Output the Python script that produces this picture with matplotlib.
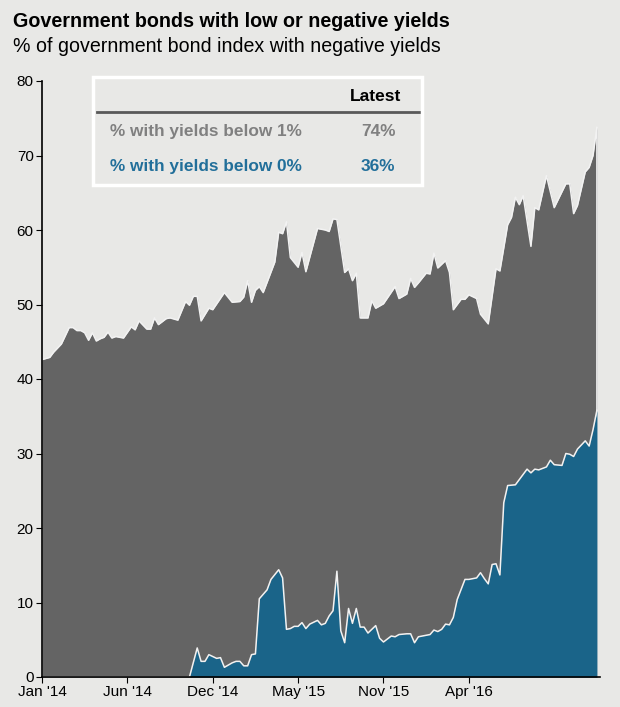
import matplotlib
matplotlib.use("Agg")
import matplotlib.pyplot as plt
from matplotlib.patches import Rectangle
from matplotlib.lines import Line2D

plt.rcParams['font.family'] = ['Liberation Sans', 'DejaVu Sans']

# weekly index (week 0 = early Jan 2014), % of index
below1_weeks = [0, 2, 3, 5, 7, 8, 9, 10, 11, 12, 13, 14, 15, 16, 17, 18, 19, 21,
                23, 24, 25, 27, 28, 29, 30, 32, 33, 35, 37, 38, 39, 40, 41, 43, 44,
                47, 49, 51, 52, 53, 54, 55, 56, 57, 60, 61, 62, 63, 64, 66, 67, 68,
                71, 73, 74, 75, 76, 78, 79, 80, 81, 82, 84, 85, 86, 88, 91, 92, 94,
                95, 96, 97, 99, 100, 101, 102, 104, 105, 106, 108, 109, 110, 112,
                113, 115, 117, 118, 120, 121, 122, 123, 124, 126, 127, 128, 130,
                132, 135, 136, 137, 138, 140, 141, 142, 143]
below1_vals = [42.6, 42.9, 43.6, 44.7, 46.9, 46.9, 46.5, 46.5, 46.2, 45.2, 46.2, 45.1,
               45.4, 45.6, 46.3, 45.5, 45.7, 45.5, 47.0, 46.6, 47.8, 46.7, 46.7,
               48.2, 47.3, 48.1, 48.2, 47.9, 50.4, 49.9, 51.1, 51.1, 47.8, 49.5,
               49.3, 51.6, 50.3, 50.4, 51.0, 53.2, 50.3, 51.9, 52.4, 51.6, 55.7,
               59.7, 59.5, 61.1, 56.3, 55.0, 57.0, 54.4, 60.2, 60.0, 59.8, 61.5,
               61.4, 54.3, 54.8, 53.2, 54.2, 48.2, 48.2, 50.5, 49.5, 50.1, 52.4,
               50.8, 51.4, 53.5, 52.3, 52.9, 54.2, 54.1, 56.9, 54.9, 55.9, 54.3,
               49.3, 50.7, 50.7, 51.3, 50.8, 48.7, 47.4, 54.8, 54.5, 60.7, 61.7,
               64.4, 63.4, 64.6, 57.8, 63.0, 62.7, 67.3, 63.0, 66.2, 66.2, 62.2,
               63.3, 67.8, 68.4, 70.0, 73.8]

below0_weeks = [0, 38, 40, 41, 42, 43, 45, 46, 47, 49, 50, 51, 52, 53, 54, 55, 56,
                58, 59, 61, 62, 63, 64, 65, 66, 67, 68, 69, 71, 72, 73, 74, 75, 76,
                77, 78, 79, 80, 81, 82, 83, 84, 86, 87, 88, 90, 91, 92, 94, 95, 96,
                97, 100, 101, 102, 103, 104, 105, 106, 107, 109, 110, 112, 113, 114,
                115, 116, 117, 118, 119, 120, 122, 124, 125, 126, 127, 128, 130,
                131, 132, 134, 135, 136, 137, 138, 140, 141, 142, 143]
below0_vals = [0.0, 0.0, 3.9, 2.1, 2.1, 3.0, 2.5, 2.6, 1.3, 1.9, 2.1, 2.1, 1.5, 1.5,
               3.0, 3.1, 10.5, 11.7, 13.1, 14.4, 13.3, 6.4, 6.5, 6.8, 6.8, 7.3,
               6.5, 7.1, 7.6, 7.0, 7.2, 8.2, 8.9, 14.2, 6.2, 4.6, 9.2, 7.2, 9.2,
               6.7, 6.7, 5.9, 6.9, 5.2, 4.7, 5.5, 5.4, 5.7, 5.8, 5.8, 4.6, 5.4,
               5.7, 6.3, 6.1, 6.4, 7.1, 7.0, 8.0, 10.4, 13.1, 13.1, 13.3, 14.0,
               13.2, 12.5, 15.1, 15.2, 13.7, 23.4, 25.7, 25.8, 27.2, 27.9, 27.4,
               27.9, 27.8, 28.2, 29.1, 28.5, 28.4, 30.0, 29.9, 29.6, 30.6, 31.7,
               31.0, 33.2, 35.8]

tick_weeks = [0, 22, 44, 66, 88, 110]
tick_labels = ["Jan '14", "Jun '14", "Dec '14", "May '15", "Nov '15", "Apr '16"]
latest_labels = ["% with yields below 1%", "% with yields below 0%"]
latest_vals = ["74%", "36%"]

BG = '#e8e8e6'
GRAY = '#646464'
BLUE = '#1a6489'
EDGE = '#f2f2f2'

fig = plt.figure(figsize=(6.2, 7.07), dpi=100, facecolor=BG)
ax = fig.add_axes([42 / 620, 30 / 707, 558 / 620, 596 / 707])
ax.set_facecolor(BG)

ax.fill_between(below1_weeks, 0, below1_vals, color=GRAY, lw=0, zorder=2)
ax.plot(below1_weeks + [below1_weeks[-1]], below1_vals + [0],
        color=EDGE, lw=1.1, zorder=3)
ax.fill_between(below0_weeks, 0, below0_vals, color=BLUE, lw=0, zorder=4)
ax.plot(below0_weeks, below0_vals, color=EDGE, lw=1.1, zorder=5)

ax.set_xlim(0, 143.8)
ax.set_ylim(0, 80)
ax.set_yticks(range(0, 81, 10))
ax.set_xticks(tick_weeks)
ax.set_xticklabels(tick_labels)
ax.tick_params(labelsize=11, length=4, color='black', pad=2)
for s in ['top', 'right']:
    ax.spines[s].set_visible(False)
for s in ['left', 'bottom']:
    ax.spines[s].set_color('black')
    ax.spines[s].set_linewidth(1.2)
    ax.spines[s].set_zorder(6)

fig.text(13 / 620, 0.969, 'Government bonds with low or negative yields',
         fontsize=14.2, fontweight='bold', va='center', ha='left')
fig.text(13 / 620, 0.934, '% of government bond index with negative yields',
         fontsize=14.1, va='center', ha='left')

# "Latest" box
fig.patches.append(Rectangle((93 / 620, 0.7383), 329 / 620, 0.1528,
                             transform=fig.transFigure, fill=False,
                             edgecolor='white', lw=2.5, zorder=7))
fig.lines.append(Line2D([97 / 620, 420 / 620], [0.8409, 0.8409],
                        transform=fig.transFigure, color='#595959', lw=2))
fig.text(0.6065, 0.8642, 'Latest', fontsize=12.5, fontweight='bold',
         ha='center', va='center')
for (lab, val, col, y) in zip(latest_labels, latest_vals, ['#808080', '#226f9a'],
                              [0.8137, 0.7642]):
    fig.text(110 / 620, y, lab, fontsize=12.4, fontweight='bold', color=col,
             ha='left', va='center')
    fig.text(0.6097, y, val, fontsize=12.4, fontweight='bold', color=col,
             ha='center', va='center')

fig.savefig('out.png', dpi=100, facecolor=BG)
